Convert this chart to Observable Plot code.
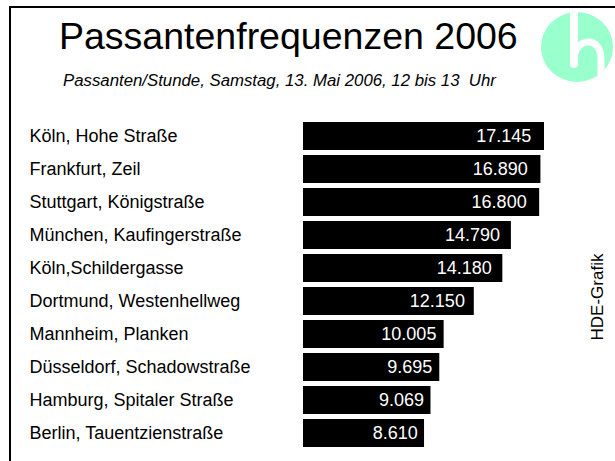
<!DOCTYPE html>
<html>
<head>
<meta charset="utf-8">
<script src="https://cdn.jsdelivr.net/npm/d3@7"></script>
<script src="https://cdn.jsdelivr.net/npm/@observablehq/plot@0.6"></script>
<style>
  html, body { margin: 0; padding: 0; background: #fff; }
  #wrap { position: relative; width: 615px; height: 461px; overflow: hidden; font-family: "Liberation Sans", Arial, sans-serif; }
  #frame { position: absolute; left: 9px; top: 6px; width: 620px; height: 470px; border-left: 2px solid #000; border-top: 2px solid #000; }
  #title { position: absolute; left: 59px; top: 16px; font-size: 37.5px; line-height: 1.117; color: #000; white-space: nowrap; }
  #subtitle { position: absolute; left: 63px; top: 72px; font-size: 16.8px; line-height: 1.117; font-style: italic; color: #000; white-space: nowrap; }
  #credit { position: absolute; left: 598px; top: 297px; font-size: 17px; color: #000; white-space: nowrap; transform: translate(-50%, -50%) rotate(-90deg); }
  #logo { position: absolute; left: 530px; top: 0; }
  #chart { position: absolute; left: 0; top: 0; }
</style>
</head>
<body>
<div id="wrap">
  <div id="frame"></div>
  <div id="title">Passantenfrequenzen 2006</div>
  <div id="subtitle">Passanten/Stunde, Samstag, 13. Mai 2006, 12 bis 13&nbsp; Uhr</div>
  <svg id="logo" width="85" height="95" viewBox="530 0 85 95">
    <defs><clipPath id="cc"><ellipse cx="577" cy="47" rx="36" ry="35"/></clipPath></defs>
    <ellipse cx="577" cy="47" rx="36" ry="35" fill="#99ffcc"/>
    <g clip-path="url(#cc)" fill="none" stroke="#fff" stroke-linecap="round">
      <line x1="574" y1="0" x2="574" y2="64" stroke-width="8"/>
      <path d="M574,60 C574,37 602,35 601,60 L601,95" stroke-width="7"/>
    </g>
  </svg>
  <div id="credit">HDE-Grafik</div>
  <div id="chart"></div>
</div>
<script>
const streets = [
  "Köln, Hohe Straße",
  "Frankfurt, Zeil",
  "Stuttgart, Königstraße",
  "München, Kaufingerstraße",
  "Köln,Schildergasse",
  "Dortmund, Westenhellweg",
  "Mannheim, Planken",
  "Düsseldorf, Schadowstraße",
  "Hamburg, Spitaler Straße",
  "Berlin, Tauentzienstraße"
];
const passanten = [17145, 16890, 16800, 14790, 14180, 12150, 10005, 9695, 9069, 8610];
const valueLabels = ["17.145", "16.890", "16.800", "14.790", "14.180", "12.150", "10.005", "9.695", "9.069", "8.610"];

const data = streets.map((s, i) => ({street: s, value: passanten[i], label: valueLabels[i]}));

const chart = Plot.plot({
  width: 615,
  height: 461,
  marginLeft: 303,
  marginRight: 71,
  marginTop: 116,
  marginBottom: 8,
  style: {fontFamily: "Liberation Sans, Arial, sans-serif", background: "transparent"},
  x: {domain: [0, 17145], axis: null},
  y: {domain: streets, padding: 0.15, axis: null},
  marks: [
    Plot.barX(data, {x: "value", y: "street", fill: "#000"}),
    Plot.text(data, {x: d => d.value * 0.945, y: "street", text: "label", fill: "#fff", textAnchor: "end", fontSize: 18}),
    Plot.text(data, {y: "street", text: "street", frameAnchor: "left", textAnchor: "start", dx: -274, fontSize: 18, fill: "#000"})
  ]
});
document.getElementById("chart").appendChild(chart);
</script>
</body>
</html>
